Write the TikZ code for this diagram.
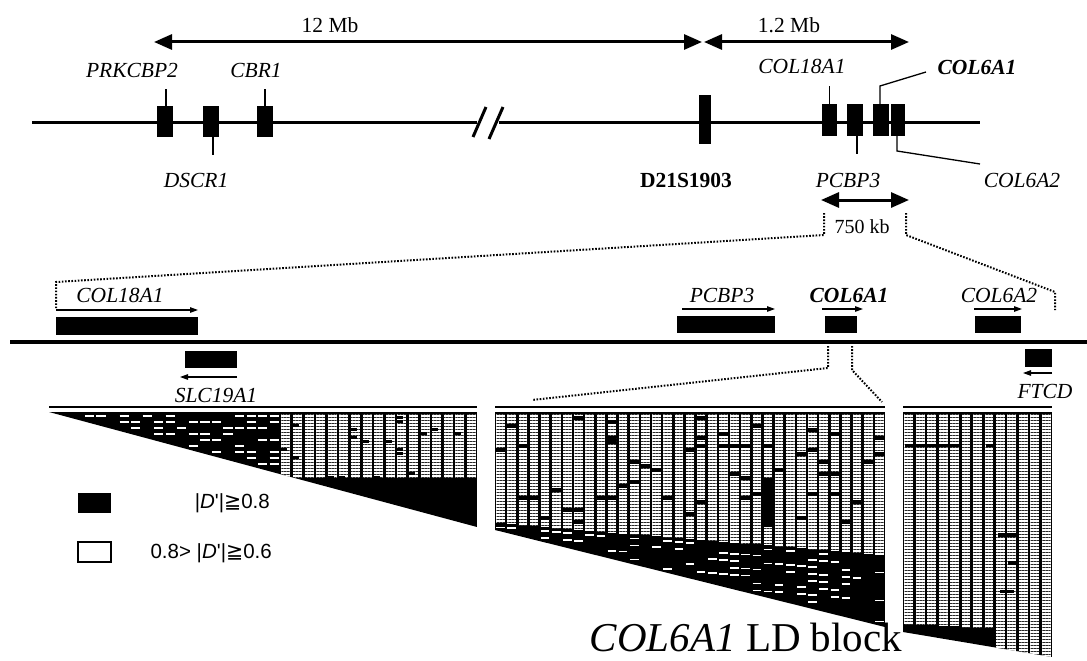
\documentclass[tikz,border=0pt]{standalone}
\usepackage{fontspec}
\setmainfont{Liberation Serif}
\newfontfamily\legendfont{Liberation Sans}
\newfontfamily\symfont{DejaVu Sans}
\usetikzlibrary{arrows.meta,patterns.meta}
\begin{document}
\begin{tikzpicture}[x=1pt,y=-1pt,
  gene/.style={fill=black,draw=none,inner sep=0pt,outer sep=0pt},
  lbl/.style={font=\fontsize{21.5}{24}\selectfont\itshape,inner sep=0pt},
  rlbl/.style={font=\fontsize{21.5}{24}\selectfont,inner sep=0pt},
  tickline/.style={line width=1.3pt},
  span/.style={line width=3pt,{Triangle[length=18pt,width=15pt]}-{Triangle[length=18pt,width=15pt]}},
  dirarrow/.style={line width=1.2pt,-{Triangle[length=8pt,width=5.5pt]}},
  zoomline/.style={line width=2pt,dash pattern=on 1.6pt off 1.6pt},
  stripes/.style={pattern={Lines[angle=0,distance=3pt,line width=1pt]},pattern color=black!85},
  legtext/.style={font=\fontsize{20.5}{23}\selectfont\legendfont,inner sep=0pt},
]
\useasboundingbox (0,0) rectangle (1087,661);
\fill[white] (0,0) rectangle (1087,661);

% ---------------- top: chromosome overview ----------------
\coordinate (c0) at (32,122);
\coordinate (c1) at (477,122);
\coordinate (c2) at (499,122);
\coordinate (c3) at (980,122);
\draw[line width=3pt] (c0) -- (c1);
\draw[line width=3pt] (c2) -- (c3);
\coordinate (s1a) at (473,137); \coordinate (s1b) at (486,107);
\coordinate (s2a) at (489,139); \coordinate (s2b) at (503,107);
\draw[line width=3pt] (s1a) -- (s1b);
\draw[line width=3pt] (s2a) -- (s2b);

\node[gene,minimum width=16pt,minimum height=31pt] (tPRK) at (165,121.5) {};
\node[gene,minimum width=16pt,minimum height=31pt] (tDSC) at (211,121.5) {};
\node[gene,minimum width=16pt,minimum height=31pt] (tCBR) at (265,121.5) {};
\node[gene,minimum width=12pt,minimum height=49pt] (tD21) at (705,119.5) {};
\node[gene,minimum width=15pt,minimum height=32pt] (tC18) at (829.5,120) {};
\node[gene,minimum width=16pt,minimum height=32pt] (tPCB) at (855,120) {};
\node[gene,minimum width=16pt,minimum height=32pt] (tC61) at (881,120) {};
\node[gene,minimum width=14pt,minimum height=32pt] (tC62) at (898,120) {};

\node[lbl] (lPRK) at (132,70) {PRKCBP2};
\node[lbl] (lCBR) at (256,70) {CBR1};
\node[lbl] (lDSC) at (196,180) {DSCR1};
\node[rlbl,font=\fontsize{21.5}{24}\selectfont\bfseries] (lD21) at (686,180) {D21S1903};
\node[lbl] (lC18) at (802,66) {COL18A1};
\node[lbl,font=\fontsize{21.5}{24}\selectfont\bfseries\itshape] (lC61) at (977,67) {COL6A1};
\node[lbl] (lPCB) at (848,180) {PCBP3};
\node[lbl] (lC62) at (1022,180) {COL6A2};

\draw[tickline] ([xshift=1pt]tPRK.north) -- ++(0,-17);
\draw[tickline] (tCBR.north) -- ++(0,-17);
\draw[tickline] ([xshift=2pt]tDSC.south) -- ++(0,18);
\draw[tickline] (tC18.north) -- ++(0,-18);
\draw[tickline] ([xshift=2pt]tPCB.south) -- ++(0,18);
\coordinate (k61) at (926,72);
\draw[tickline] ([xshift=-1pt]tC61.north) -- ++(0,-18) -- (k61);
\coordinate (k62) at (980,164);
\draw[tickline] ([xshift=-1pt]tC62.south) -- ++(0,15) -- (k62);

% spans
\coordinate (a0) at (154,42);
\coordinate (a1) at (702,42);
\coordinate (a2) at (704,42);
\coordinate (a3) at (909,42);
\draw[span] (a0) -- (a1);
\draw[span] (a2) -- (a3);
\node[rlbl] (l12) at (330,25) {12 Mb};
\node[rlbl] (l1p2) at (789,25) {1.2 Mb};
\coordinate (b0) at (821,200);
\coordinate (b1) at (909,200);
\draw[span] (b0) -- (b1);
\node[rlbl,font=\fontsize{20}{22}\selectfont] (l750) at (862,227) {750 kb};

% zoom lines
\coordinate (z1) at (824,213); \coordinate (z2) at (824,235);
\coordinate (z3) at (56,282);  \coordinate (z4) at (56,308);
\coordinate (z5) at (906,213); \coordinate (z6) at (906,235);
\coordinate (z7) at (1055,292); \coordinate (z8) at (1055,310);
\draw[zoomline] (z1) -- (z2) -- (z3) -- (z4);
\draw[zoomline] (z5) -- (z6) -- (z7) -- (z8);

% ---------------- middle: gene map ----------------
\coordinate (m0) at (10,342);
\coordinate (m1) at (1087,342);
\draw[line width=3.5pt] (m0) -- (m1);

\node[gene,minimum width=142pt,minimum height=18pt] (mC18) at (127,326) {};
\node[gene,minimum width=52pt,minimum height=17pt] (mSLC) at (211,359.5) {};
\node[gene,minimum width=98pt,minimum height=17pt] (mPCB) at (726,324.5) {};
\node[gene,minimum width=32pt,minimum height=17pt] (mC61) at (841,324.5) {};
\node[gene,minimum width=46pt,minimum height=17pt] (mC62) at (998,324.5) {};
\node[gene,minimum width=27pt,minimum height=18pt] (mFTC) at (1038.5,358) {};

\draw[dirarrow] ([yshift=7pt]mC18.north west) -- ([yshift=7pt]mC18.north east);
\draw[dirarrow] ([yshift=-9pt]mSLC.south east) -- ([yshift=-9pt,xshift=-5pt]mSLC.south west);
\draw[dirarrow] ([yshift=7pt,xshift=5pt]mPCB.north west) -- ([yshift=7pt]mPCB.north east);
\draw[dirarrow] ([yshift=7pt,xshift=-3pt]mC61.north west) -- ([yshift=7pt,xshift=6pt]mC61.north east);
\draw[dirarrow] ([yshift=7pt,xshift=-1pt]mC62.north west) -- ([yshift=7pt,xshift=1pt]mC62.north east);
\draw[dirarrow] ([yshift=-6pt]mFTC.south east) -- ([yshift=-6pt,xshift=-2pt]mFTC.south west);

\node[lbl] (nC18) at (120,295) {COL18A1};
\node[lbl] (nSLC) at (216,395) {SLC19A1};
\node[lbl] (nPCB) at (722,295) {PCBP3};
\node[lbl,font=\fontsize{21.5}{24}\selectfont\bfseries\itshape] (nC61) at (849,295) {COL6A1};
\node[lbl] (nC62) at (999,295) {COL6A2};
\node[lbl] (nFTC) at (1045,391) {FTCD};

\coordinate (y1) at (828,346); \coordinate (y2) at (828,368); \coordinate (y3) at (532,400);
\coordinate (y4) at (852,346); \coordinate (y5) at (852,370); \coordinate (y6) at (882,402);
\draw[zoomline] (y1) -- (y2) -- (y3);
\draw[zoomline] (y4) -- (y5) -- (y6);

% ---------------- LD blocks ----------------
\draw[line width=1.5pt] (49,407) -- (477,407);
\draw[line width=1.5pt] (495,407) -- (885,407);
\draw[line width=1.5pt] (903,407) -- (1052,407);

\pgfmathsetseed{4711}
% block 1
\begin{scope}
\clip (49,412) -- (477,412) -- (477,527) -- cycle;
\fill[black] (49,412) rectangle (477,527);
\foreach \i in {0,...,16} {
  \pgfmathsetmacro{\xa}{280+\i*11.6+1.3}
  \pgfmathsetmacro{\xb}{280+(\i+1)*11.6-1.3}
  \fill[white] (\xa,414) rectangle (\xb,478);
  \fill[stripes] (\xa,414) rectangle (\xb,478);
  \foreach \y in {0,...,15} {
    \pgfmathsetmacro{\yy}{416+\y*4}
    \pgfmathsetmacro{\rr}{rnd}
    \pgfmathparse{\rr<0.07?1:0}
    \ifnum\pgfmathresult=1 \fill[black] (\xa,\yy) rectangle (\xb-3,\yy+2.5); \fi
  }
}
\foreach \i in {0,...,19} {
  \pgfmathsetmacro{\xa}{49+\i*11.55+1.2}
  \pgfmathsetmacro{\xb}{49+(\i+1)*11.55-1.2}
  \pgfmathsetmacro{\yh}{412+(\i+0.5)*3.1033-4}
  \foreach \y in {0,...,8} {
    \pgfmathsetmacro{\yy}{416+\y*6}
    \pgfmathsetmacro{\rr}{rnd}
    \pgfmathparse{and(\rr<0.55,\yy<\yh)?1:0}
    \ifnum\pgfmathresult=1 \draw[white,line width=1.6pt] (\xa,\yy) -- (\xb,\yy); \fi
  }
}
\end{scope}

% block 2
\begin{scope}
\clip (495,412) -- (885,412) -- (885,627) -- (495,530) -- cycle;
\fill[black] (495,412) rectangle (885,627);
\foreach \i in {0,...,34} {
  \pgfmathsetmacro{\xa}{495+\i*11.143+1.3}
  \pgfmathsetmacro{\xb}{495+(\i+1)*11.143-1.3}
  \pgfmathsetmacro{\yb}{523+(\i+0.5)*0.9143}
  \pgfmathsetmacro{\ybot}{530+(\i+0.5)*2.7715}
  \fill[white] (\xa,414) rectangle (\xb,\yb);
  \fill[stripes] (\xa,414) rectangle (\xb,\yb);
  \foreach \y in {0,...,14} {
    \pgfmathsetmacro{\yy}{\yb+4+\y*7}
    \pgfmathsetmacro{\rr}{rnd}
    \pgfmathparse{and(\rr<0.45,\yy<\ybot-3)?1:0}
    \ifnum\pgfmathresult=1 \draw[white,line width=1.8pt] (\xa,\yy) -- (\xb,\yy); \fi
  }
  \foreach \y in {0,...,26} {
    \pgfmathsetmacro{\yy}{416+\y*4}
    \pgfmathsetmacro{\rr}{rnd}
    \pgfmathparse{and(\rr<0.06,\yy<\yb-6)?1:0}
    \ifnum\pgfmathresult=1 \fill[black] (\xa,\yy) rectangle (\xb,\yy+3.5); \fi
  }
}
\fill[black] (763.5,478) rectangle (772.5,527);
\end{scope}

% block 3
\begin{scope}
\clip (903,412) -- (1052,412) -- (1052,657) -- (903,632) -- cycle;
\fill[black] (903,412) rectangle (1052,657);
\foreach \i in {0,...,12} {
  \pgfmathsetmacro{\xa}{903+\i*11.46+1.3}
  \pgfmathsetmacro{\xb}{903+(\i+1)*11.46-1.3}
  \pgfmathsetmacro{\yb}{\i<8 ? 624+\i*0.6 : 660}
  \fill[white] (\xa,414) rectangle (\xb,\yb);
  \fill[stripes] (\xa,414) rectangle (\xb,\yb);
}
\fill[black] (905,444) rectangle (962,447);
\fill[black] (986,444) rectangle (996,447);
\fill[black] (998,533) rectangle (1017,537);
\fill[black] (1008,561) rectangle (1017,565);
\fill[black] (1000,590) rectangle (1014,593);
\end{scope}

% legend
\node[gene,minimum width=33pt,minimum height=20pt] (legB) at (94.5,503) {};
\node[draw=black,line width=1.2pt,fill=white,inner sep=0pt,minimum width=33pt,minimum height=20pt] (legW) at (94.5,552) {};
\node[legtext,anchor=east] (legBt) at (270,503) {|\textit{D}'|{\symfont ≧}0.8};
\node[legtext,anchor=east] (legWt) at (272,553) {0.8> |\textit{D}'|{\symfont ≧}0.6};

\node[font=\fontsize{41}{45}\selectfont,inner sep=0pt,anchor=base] (ldb) at (746,651) {\textit{COL6A1} LD block};
\end{tikzpicture}
\end{document}
